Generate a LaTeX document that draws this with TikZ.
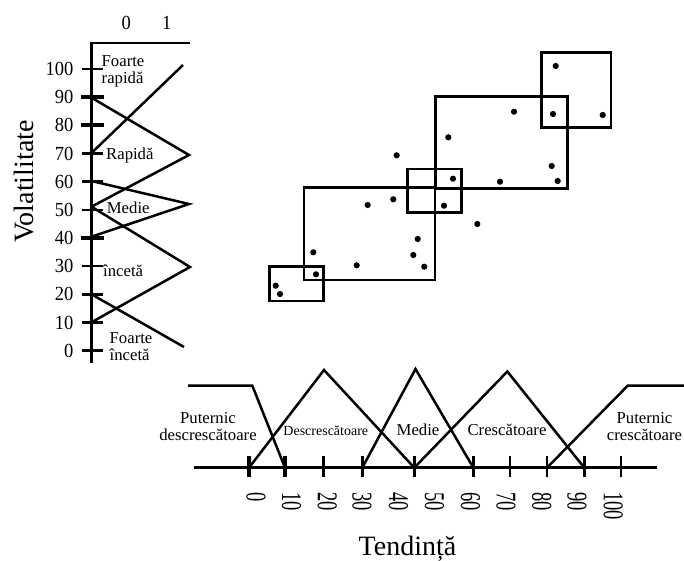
\documentclass[tikz,border=0pt]{standalone}
\usepackage{fontspec}
\setmainfont{Liberation Serif}
\begin{document}
\begin{tikzpicture}[x=1pt,y=-1pt,
  ln/.style={line width=2.5pt, line join=miter},
  axisline/.style={line width=2.9pt},
  tk/.style={line width=2.6pt},
  tkb/.style={line width=4pt},
  box/.style={line width=2.5pt},
  dot/.style={circle, fill=black, inner sep=0pt, minimum size=6.2pt},
  num/.style={inner sep=0pt, font=\fontsize{18.5}{20}\selectfont},
  lbl/.style={inner sep=0pt, font=\fontsize{16.7}{17.2}\selectfont},
  small/.style={inner sep=0pt, font=\fontsize{14}{15}\selectfont},
  big/.style={inner sep=0pt, font=\fontsize{28}{30}\selectfont},
]
\useasboundingbox (0,0) rectangle (684,561);

% ---------- left (Volatilitate) axis ----------
\draw[axisline] (91.5,363) -- (91.5,43) -- (190,43);
\node[num] (top0) at (126.3,22.5) {\scalebox{1}[1.08]{0}};
\node[num] (top1) at (166.7,22.5) {\scalebox{1}[1.08]{1}};
\foreach \v in {0,10,...,100}{
  \pgfmathsetmacro{\yy}{350.7-2.817*\v}
  \node[num, anchor=east] (v\v) at (73.5,\yy) {\scalebox{1}[1.08]{\v}};
}
\foreach \v in {100,70,60,50,30,20,10,0}{
  \pgfmathsetmacro{\yy}{350.7-2.817*\v}
  \draw[tk] (81.5,\yy) -- (103,\yy);
}
\foreach \v in {90,80,40}{
  \pgfmathsetmacro{\yy}{350.7-2.817*\v}
  \draw[tkb] (80.5,\yy) -- (103.5,\yy);
}
\node[big, rotate=90, anchor=base] (vol) at (33,181.5) {Volatilitate};

% membership functions (vertical)
\draw[ln] (91.5,153) -- (183,65);
\draw[ln] (91.5,97.7) -- (189,155) -- (91.5,206.7);
\draw[ln] (91.5,181) -- (189,204) -- (91.5,236.7);
\draw[ln] (91.5,206.7) -- (190,267) -- (91.5,322.3);
\draw[ln] (91.5,294.3) -- (184,347);

\node[lbl, anchor=north west, align=left] (fr) at (101.5,55) {Foarte\\rapidă};
\node[lbl, anchor=base west] (ra) at (106,159.5) {Rapidă};
\node[lbl, anchor=base west] (me) at (106.7,213) {Medie};
\node[lbl, anchor=base west] (in) at (103,276.7) {încetă};
\node[lbl, anchor=north west, align=left] (fi) at (109.5,332.5) {Foarte\\încetă};

% ---------- bottom (Tendinta) axis ----------
\draw[axisline] (194,467.7) -- (657,467.7);
\foreach \x in {323.3,362.3,414.3,473.3,510,547,584.3,621}{
  \draw[tk] (\x,456) -- (\x,477);
}
\foreach \x in {249,285}{
  \draw[tkb] (\x,456) -- (\x,477);
}
\foreach \v/\x in {0/256,10/291.5,20/327.3,30/362,40/398.5,50/434.5,60/470.5,70/506,80/541.7,90/577,100/613.3}{
  \node[num, rotate=-90, anchor=west] (t\v) at (\x,492) {\scalebox{1}[1.55]{\v}};
}
\node[big, anchor=base] (tend) at (407.5,555) {Tendință};

% membership functions (horizontal)
\draw[ln] (188,385.7) -- (252.3,385.7) -- (285,467.7);
\draw[ln] (249,467.7) -- (324,370) -- (414.3,467.7);
\draw[ln] (362.3,467.7) -- (415.5,369) -- (473.3,467.7);
\draw[ln] (414.3,467.7) -- (507.3,371.5) -- (584.3,467.7);
\draw[ln] (547,467.7) -- (627.7,385.7) -- (684,385.7);

\node[lbl, anchor=north, align=center] (pd) at (208,412) {Puternic\\descrescătoare};
\node[small, anchor=base] (de) at (325.8,435) {Descrescătoare};
\node[lbl, anchor=base] (mb) at (418,435) {Medie};
\node[lbl, anchor=base] (cr) at (507,435) {Crescătoare};
\node[lbl, anchor=north, align=center] (pc) at (644.5,412) {Puternic\\crescătoare};

% ---------- scatter boxes ----------
\draw[box] (269.3,266.7) rectangle (323.3,301);
\draw[box] (304,187.7) rectangle (435,280);
\draw[box] (407.3,169) rectangle (461.7,212.3);
\draw[box] (435.7,96.7) rectangle (567.3,188.7);
\draw[box] (541.7,52.3) rectangle (611,127.3);

\foreach \px/\py [count=\i] in {275.7/285.7, 280/294, 316/274.3, 313.3/252.3, 356.7/265.3,
  367.7/205, 393.3/199.3, 396.7/155.3, 417.7/239, 413.3/255, 424.3/266.7,
  448.3/137.3, 453/178.7, 444/205.7, 477.3/224, 500/181.7, 514/111.7,
  555.7/66, 553/114, 602.7/115, 551.7/166, 557.7/181}{
  \node[dot] (d\i) at (\px,\py) {};
}
\end{tikzpicture}
\end{document}
